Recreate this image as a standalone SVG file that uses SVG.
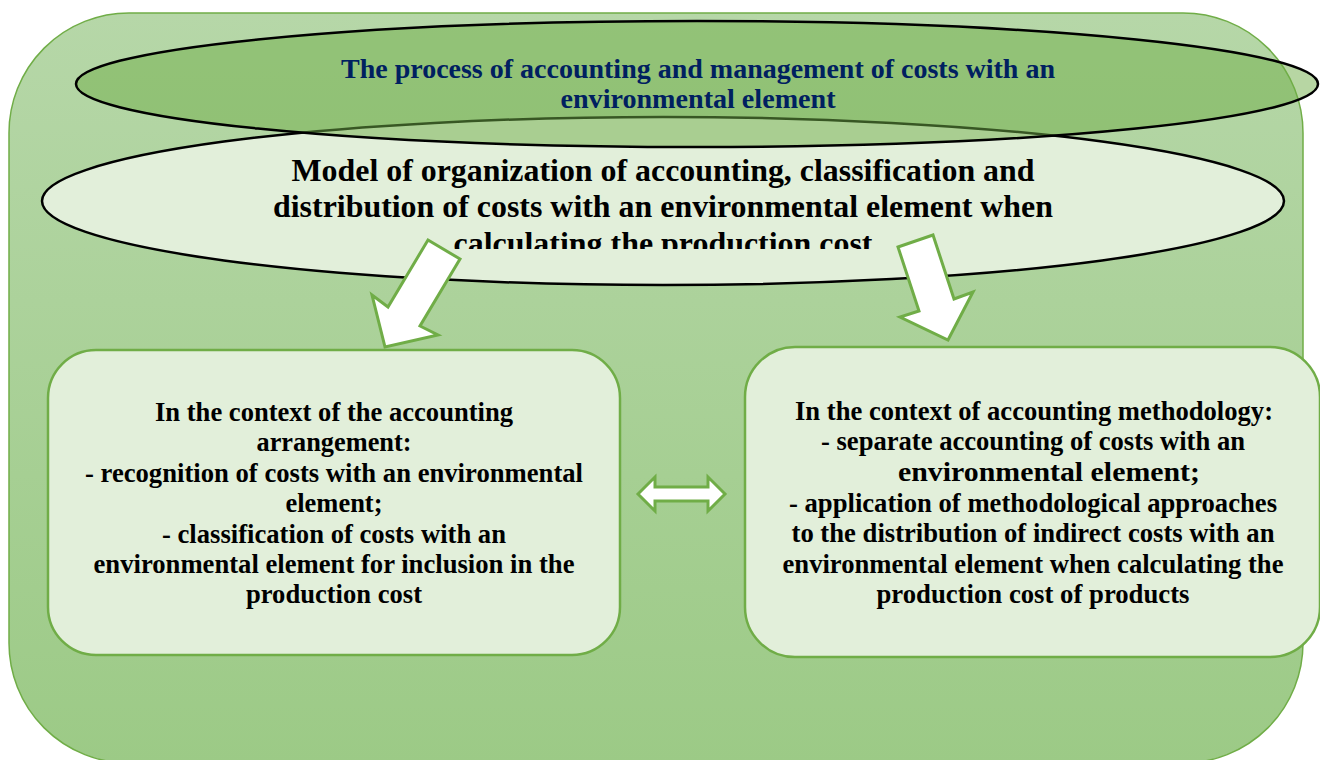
<svg xmlns="http://www.w3.org/2000/svg" width="1320" height="760" viewBox="0 0 1320 760">
<defs>
<linearGradient id="bgGrad" x1="0" y1="0" x2="0" y2="1">
<stop offset="0" stop-color="#b6d7a8"/>
<stop offset="1" stop-color="#9cca86"/>
</linearGradient>
<clipPath id="modelClip"><rect x="0" y="0" width="1320" height="249"/></clipPath>
<style>
.panel{fill:#e2efda;stroke:#70ad47;stroke-width:2.5;}
.arrow{fill:#ffffff;stroke:#70ad47;stroke-width:3;stroke-linejoin:miter;}
</style>
</defs>
<g id="background">
<rect x="9" y="13" width="1294" height="750" rx="120" ry="120" fill="url(#bgGrad)" stroke="#70ad47" stroke-width="1.5"/>
</g>
<g id="model-node">
<ellipse cx="663" cy="201" rx="621" ry="84" fill="#e2efda" stroke="#000" stroke-width="2.5"/>
<g clip-path="url(#modelClip)" font-family="Liberation Serif, Times New Roman, serif" font-weight="bold" font-size="32" text-anchor="middle" fill="#000">
<text x="663" y="181" textLength="743" lengthAdjust="spacingAndGlyphs">Model of organization of accounting, classification and</text>
<text x="663" y="217" textLength="780" lengthAdjust="spacingAndGlyphs">distribution of costs with an environmental element when</text>
<text x="663" y="254" textLength="419" lengthAdjust="spacingAndGlyphs">calculating the production cost</text>
</g>
</g>
<g id="process-node">
<ellipse cx="697" cy="84" rx="621" ry="63" fill="#70ad47" fill-opacity="0.5" stroke="#000" stroke-width="2.5"/>
<g font-family="Liberation Serif, Times New Roman, serif" font-weight="bold" font-size="28" text-anchor="middle" fill="#002060">
<text x="698" y="78" textLength="714" lengthAdjust="spacingAndGlyphs">The process of accounting and management of costs with an</text>
<text x="698" y="108" textLength="275" lengthAdjust="spacingAndGlyphs">environmental element</text>
</g>
</g>
<g id="arrangement-node">
<rect class="panel" x="48" y="350" width="572" height="305" rx="48" ry="48"/>
<g font-family="Liberation Serif, Times New Roman, serif" font-weight="bold" font-size="26.5" text-anchor="middle" fill="#000">
<text x="334" y="421" textLength="358" lengthAdjust="spacingAndGlyphs">In the context of the accounting</text>
<text x="334" y="451" textLength="155" lengthAdjust="spacingAndGlyphs">arrangement:</text>
<text x="334" y="482" textLength="498" lengthAdjust="spacingAndGlyphs">- recognition of costs with an environmental</text>
<text x="334" y="512" textLength="97" lengthAdjust="spacingAndGlyphs">element;</text>
<text x="334" y="543" textLength="344" lengthAdjust="spacingAndGlyphs">- classification of costs with an</text>
<text x="334" y="573" textLength="481" lengthAdjust="spacingAndGlyphs">environmental element for inclusion in the</text>
<text x="334" y="603" textLength="176" lengthAdjust="spacingAndGlyphs">production cost</text>
</g>
</g>
<g id="methodology-node">
<rect class="panel" x="745" y="347" width="575" height="310" rx="50" ry="50"/>
<g font-family="Liberation Serif, Times New Roman, serif" font-weight="bold" font-size="26.5" text-anchor="middle" fill="#000">
<text x="1034" y="420" textLength="478" lengthAdjust="spacingAndGlyphs">In the context of accounting methodology:</text>
<text x="1033" y="450" textLength="424" lengthAdjust="spacingAndGlyphs">- separate accounting of costs with an</text>
<text x="1049" y="481" textLength="302" lengthAdjust="spacingAndGlyphs">environmental element;</text>
<text x="1033" y="512" textLength="488" lengthAdjust="spacingAndGlyphs">- application of methodological approaches</text>
<text x="1033" y="542" textLength="483" lengthAdjust="spacingAndGlyphs">to the distribution of indirect costs with an</text>
<text x="1033" y="573" textLength="501" lengthAdjust="spacingAndGlyphs">environmental element when calculating the</text>
<text x="1033" y="603" textLength="313" lengthAdjust="spacingAndGlyphs">production cost of products</text>
</g>
</g>
<g id="connectors">
<polygon class="arrow" points="428,240 460,259 420,326 438,335 385,347 372,295 388,307"/>
<polygon class="arrow" points="898,247 933,235 954,299 973,292 948,340 900,317 919,311"/>
<polygon class="arrow" points="638,494 655,477 655,487 708,487 708,477 725,494 708,511 708,501 655,501 655,511"/>
</g>
</svg>
